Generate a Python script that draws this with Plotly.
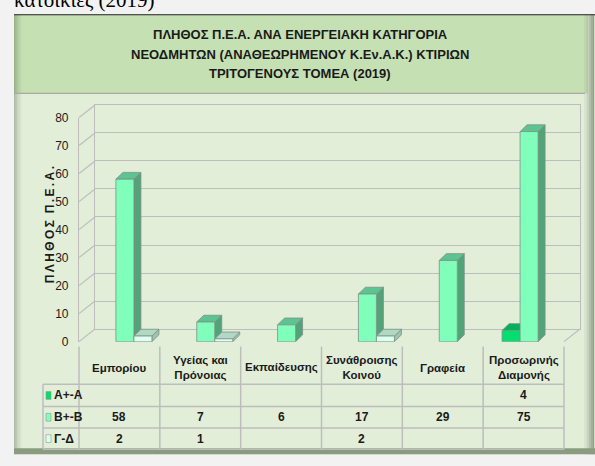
import plotly.graph_objects as go

# ---------------- data ----------------
categories = ["Εμπορίου", "Υγείας και<br>Πρόνοιας", "Εκπαίδευσης",
              "Συνάθροισης<br>Κοινού", "Γραφεία", "Προσωρινής<br>Διαμονής"]
series_names = ["Α+-Α", "Β+-Β", "Γ-Δ"]
vals_A = [None, None, None, None, None, 4]
vals_B = [58, 7, 6, 17, 29, 75]
vals_G = [2, 1, None, 2, None, None]
y_ticks = [0, 10, 20, 30, 40, 50, 60, 70, 80]
title_lines = ["ΠΛΗΘΟΣ Π.Ε.Α. ΑΝΑ ΕΝΕΡΓΕΙΑΚΗ ΚΑΤΗΓΟΡΙΑ",
               "ΝΕΟΔΜΗΤΩΝ (ΑΝΑΘΕΩΡΗΜΕΝΟΥ Κ.Εν.Α.Κ.) ΚΤΙΡΙΩΝ",
               "ΤΡΙΤΟΓΕΝΟΥΣ ΤΟΜΕΑ (2019)"]
y_title = "ΠΛΗΘΟΣ Π.Ε.Α."

front_colors = ["#00e06e", "#80ffbb", "#dcfff0"]
side_colors = ["#00a050", "#52a478", "#9cc4ae"]
top_colors = ["#00b35a", "#5cc490", "#b0d8c4"]

W, H = 595, 466
FONT = "Liberation Sans, Arial"


def px(x):
    return x / W


def py(y):
    return 1 - y / H


# geometry (pixels)
X0F, X1F = 79, 564          # front plot x-extent
Y0F, Y1F = 345, 114         # front 0 / 80
X0B, X1B = 95, 580          # back wall x-extent
Y0B, Y1B = 332, 101         # back 0 / 80
ncat = len(categories)
unit_px = (X1F - X0F) / ncat
bar_w = 18 / unit_px
offsets = [-21.5 / unit_px, -3.5 / unit_px, 14.5 / unit_px]
ddx = 7 / unit_px
ddy = 7 * 80 / (Y0F - Y1F)

xs = list(range(ncat))
series_vals = [vals_A, vals_B, vals_G]

fig = go.Figure()

# back-wall subplot (gridlines)
fig.add_trace(go.Scatter(x=[], y=[], xaxis="x", yaxis="y", showlegend=False))

# 3D side and top faces (drawn under the front faces)
for s, vals in enumerate(series_vals):
    for i, v in enumerate(vals):
        if not v:
            continue
        x0 = i + offsets[s]
        x1 = x0 + bar_w
        side_x = [x1, x1 + ddx, x1 + ddx, x1, x1]
        side_y = [0, ddy, v + ddy, v, 0]
        top_x = [x0, x1, x1 + ddx, x0 + ddx, x0]
        top_y = [v, v, v + ddy, v + ddy, v]
        fig.add_trace(go.Scatter(x=side_x, y=side_y, fill="toself", mode="lines",
                                 fillcolor=side_colors[s],
                                 line=dict(color="#7f8f85", width=0.8),
                                 xaxis="x2", yaxis="y2", showlegend=False,
                                 hoverinfo="skip"))
        fig.add_trace(go.Scatter(x=top_x, y=top_y, fill="toself", mode="lines",
                                 fillcolor=top_colors[s],
                                 line=dict(color="#7f8f85", width=0.8),
                                 xaxis="x2", yaxis="y2", showlegend=False,
                                 hoverinfo="skip"))

# front faces
for s, vals in enumerate(series_vals):
    fig.add_trace(go.Bar(x=xs, y=vals, width=bar_w, offset=offsets[s],
                         marker=dict(color=front_colors[s],
                                     line=dict(color="#7f8f85", width=0.8)),
                         name=series_names[s], xaxis="x2", yaxis="y3",
                         showlegend=False))

shapes = []
# chart frame
shapes.append(dict(type="rect", xref="paper", yref="paper", x0=px(14), x1=px(595),
                   y0=py(461), y1=py(8), fillcolor="#e3eed9", line=dict(width=0),
                   layer="below"))
# title band
shapes.append(dict(type="rect", xref="paper", yref="paper", x0=px(14), x1=px(588),
                   y0=py(89), y1=py(8), fillcolor="#c5e0b3", line=dict(width=0),
                   layer="below"))
# left inner shadow
for k, op in enumerate([0.35, 0.25, 0.17, 0.1, 0.05]):
    shapes.append(dict(type="rect", xref="paper", yref="paper", x0=px(14 + k * 1.5),
                       x1=px(15.5 + k * 1.5), y0=py(456), y1=py(8),
                       fillcolor="#4a5a40", opacity=op, line=dict(width=0), layer="below"))
# right shadow
for k, op in enumerate([0.05, 0.1, 0.18, 0.28, 0.38, 0.48]):
    shapes.append(dict(type="rect", xref="paper", yref="paper", x0=px(584 + k * 1.7),
                       x1=px(585.7 + k * 1.7), y0=py(461), y1=py(8),
                       fillcolor="#3e4a38", opacity=op, line=dict(width=0), layer="below"))
# bottom band
shapes.append(dict(type="rect", xref="paper", yref="paper", x0=px(14), x1=px(595),
                   y0=py(461), y1=py(455), fillcolor="#8a9c80", line=dict(width=0),
                   layer="below"))
# top border
shapes.append(dict(type="line", xref="paper", yref="paper", x0=px(14), x1=px(595),
                   y0=py(8), y1=py(8), line=dict(color="#202020", width=1.2)))
# title band bottom line
shapes.append(dict(type="line", xref="paper", yref="paper", x0=px(14), x1=px(585),
                   y0=py(89), y1=py(89), line=dict(color="#a8a8a8", width=1.2)))

grid_col = "#bdbdbd"
# side-wall slanted lines
for t in y_ticks:
    yf = Y0F - (Y0F - Y1F) * t / 80
    yb = Y0B - (Y0B - Y1B) * t / 80
    shapes.append(dict(type="line", xref="paper", yref="paper", x0=px(X0F), x1=px(X0B),
                       y0=py(yf), y1=py(yb), line=dict(color=grid_col, width=1.2),
                       layer="below"))
# floor right edge
shapes.append(dict(type="line", xref="paper", yref="paper", x0=px(X1F), x1=px(X1B),
                   y0=py(Y0F), y1=py(Y0B), line=dict(color=grid_col, width=1.2),
                   layer="below"))

# data table lines
col_edges = [X0F + unit_px * k for k in range(ncat + 1)]
row_edges = [389, 412, 434, 456]
for k, xe in enumerate(col_edges):
    shapes.append(dict(type="line", xref="paper", yref="paper", x0=px(xe), x1=px(xe),
                       y0=py(350), y1=py(456), line=dict(color=grid_col, width=1.5)))
shapes.append(dict(type="line", xref="paper", yref="paper", x0=px(43), x1=px(43),
                   y0=py(389), y1=py(456), line=dict(color=grid_col, width=1.5)))
for ye in row_edges:
    shapes.append(dict(type="line", xref="paper", yref="paper", x0=px(43), x1=px(X1F),
                       y0=py(ye), y1=py(ye), line=dict(color=grid_col, width=1.5)))

annotations = []
# caption of the page above the chart (cut at the top edge, as in the reference)
annotations.append(dict(text="κατοικίες (2019)", xref="paper", yref="paper",
                        x=px(12), y=py(7), xanchor="left", yanchor="bottom",
                        showarrow=False,
                        font=dict(family="Liberation Serif, Times New Roman", size=21,
                                  color="#000000")))
# title
for k, line in enumerate(title_lines):
    annotations.append(dict(text="<b>" + line + "</b>", xref="paper", yref="paper",
                            x=px(300), y=py(28 + k * 20.5), xanchor="center",
                            yanchor="middle", showarrow=False,
                            font=dict(family=FONT, size=13, color="#1a1a1a")))
# y-axis title
annotations.append(dict(text="<b>" + "\u2009".join(list(y_title)).replace("\u2009 \u2009", "  ") + "</b>",
                        xref="paper", yref="paper", x=px(50), y=py(225),
                        textangle=-90, showarrow=False, xanchor="center", yanchor="middle",
                        font=dict(family=FONT, size=12, color="#1a1a1a")))
# header (category names)
for i, c in enumerate(categories):
    annotations.append(dict(text="<b>" + c + "</b>", xref="x2", yref="paper",
                            x=i, y=py(372), xanchor="center", yanchor="middle",
                            showarrow=False,
                            font=dict(family=FONT, size=11.5, color="#1a1a1a")))
# row labels with legend keys
row_centers = [400.5, 423, 445]
for s, name in enumerate(series_names):
    annotations.append(dict(text="<b>" + name + "</b>", xref="paper", yref="paper",
                            x=px(52), y=py(row_centers[s]), xanchor="left",
                            yanchor="middle", showarrow=False,
                            font=dict(family=FONT, size=12, color="#1a1a1a")))
    shapes.append(dict(type="rect", xref="paper", yref="paper", x0=px(46), x1=px(51),
                       y0=py(row_centers[s] + 4), y1=py(row_centers[s] - 4),
                       fillcolor=front_colors[s], line=dict(color="#8a9a90", width=0.6)))
    for i, v in enumerate(series_vals[s]):
        if v is None:
            continue
        annotations.append(dict(text="<b>%d</b>" % v, xref="x2", yref="paper",
                                x=i, y=py(row_centers[s]), xanchor="center",
                                yanchor="middle", showarrow=False,
                                font=dict(family=FONT, size=12, color="#1a1a1a")))

fig.update_layout(
    width=W, height=H,
    margin=dict(l=0, r=0, t=0, b=0),
    paper_bgcolor="#f2f2f2",
    plot_bgcolor="rgba(0,0,0,0)",
    barmode="overlay",
    showlegend=False,
    shapes=shapes,
    annotations=annotations,
    xaxis=dict(domain=[px(X0B), px(X1B)], range=[0, 1], showgrid=False, zeroline=False,
               showticklabels=False, ticks="", showline=True, mirror=True,
               linecolor=grid_col, linewidth=1.2, anchor="y", fixedrange=True),
    yaxis=dict(domain=[py(Y0B), py(Y1B)], range=[0, 80], dtick=10, showgrid=True,
               gridcolor=grid_col, gridwidth=1.2, zeroline=False, showticklabels=False,
               ticks="", showline=True, mirror=True, linecolor=grid_col, linewidth=1.2,
               anchor="x"),
    xaxis2=dict(domain=[px(X0F), px(X1F)], range=[-0.5, ncat - 0.5], showgrid=False,
                zeroline=False, showticklabels=False, ticks="", showline=False,
                anchor="y2"),
    yaxis2=dict(domain=[py(Y0F), py(Y1F)], range=[0, 80], tickvals=y_ticks,
                showgrid=False, zeroline=False, showline=True, linecolor=grid_col,
                linewidth=1.2, ticks="", ticklabelstandoff=7, anchor="x2",
                tickfont=dict(family=FONT, size=12, color="#1a1a1a"),
                tickprefix="<b>", ticksuffix="</b>"),
    yaxis3=dict(overlaying="y2", range=[0, 80], visible=False, anchor="x2"),
)

fig.write_html("out.html", config={"displayModeBar": False},
               post_script="document.body.style.margin='0';")
